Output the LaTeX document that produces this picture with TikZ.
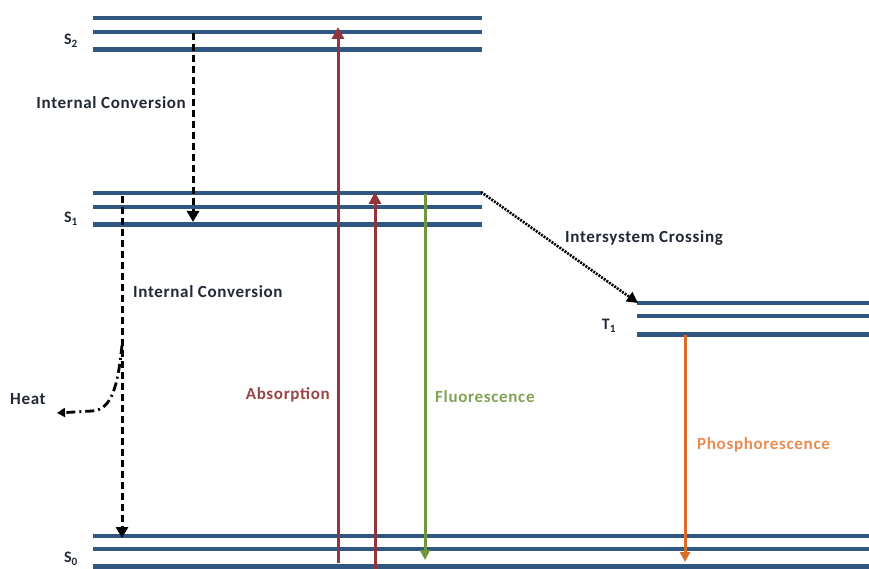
\documentclass[tikz,border=0pt]{standalone}
\usepackage{fontspec}
\setmainfont{Carlito}[LetterSpace=4]
\usepackage{xcolor}
\definecolor{levelcol}{RGB}{48,86,130}
\definecolor{abscol}{RGB}{146,54,60}
\definecolor{abstext}{RGB}{150,70,72}
\definecolor{fluocol}{RGB}{112,150,62}
\definecolor{fluotext}{RGB}{130,162,84}
\definecolor{phoscol}{RGB}{218,108,42}
\definecolor{phostext}{RGB}{232,140,82}
\definecolor{textcol}{RGB}{35,40,55}
\usepackage{tikz}
\usetikzlibrary{arrows.meta,positioning,calc}

\begin{document}
\begin{tikzpicture}[x=1pt, y=-1pt,
  lvl/.style={line width=3.8pt, color=levelcol},
  lvlb/.style={line width=5pt, color=levelcol},
  st/.style={font=\bfseries\fontsize{16}{18}\selectfont, color=textcol, inner sep=0pt},
  lbl/.style={font=\bfseries\fontsize{17}{19}\selectfont, inner sep=0pt},
  ic/.style={-{Triangle[length=11pt,width=12pt]}, line width=3pt, color=black,
             dash pattern=on 7pt off 4pt},
  heatarr/.style={-{Triangle[length=8pt,width=9pt]}, line width=2.8pt, color=black,
             dash pattern=on 9pt off 4pt on 2pt off 4pt},
  iscarr/.style={-{Triangle[length=11pt,width=11pt]}, line width=2.6pt, color=black,
             dash pattern=on 2pt off 1.2pt},
  absarr/.style={-{Triangle[length=12pt,width=12pt]}, line width=3pt, color=abscol},
  fluoarr/.style={-{Triangle[length=10pt,width=10pt]}, line width=3pt, color=fluocol},
  phosarr/.style={-{Triangle[length=10pt,width=10pt]}, line width=3pt, color=phoscol}
]
\useasboundingbox (0,0) rectangle (869,569);

%% energy levels
\draw[lvl]  (93,18)  -- (482,18);
\draw[lvl]  (93,32)  -- (482,32);
\draw[lvlb] (93,50)  -- (482,50);

\draw[lvl]  (93,193) -- (482,193);
\draw[lvl]  (93,207) -- (482,207);
\draw[lvlb] (93,225) -- (482,225);

\draw[lvl]  (637,303) -- (869,303);
\draw[lvl]  (637,316) -- (869,316);
\draw[lvlb] (637,334) -- (869,334);

\draw[lvl]  (93,536) -- (869,536);
\draw[lvl]  (93,549) -- (869,549);
\draw[lvlb] (93,566) -- (869,566);

%% state labels
\node[st] (s2) at (71,41)  {S\textsubscript{2}};
\node[st] (s1) at (71,219) {S\textsubscript{1}};
\node[st] (s0) at (71,559) {S\textsubscript{0}};
\node[st] (t1) at (609,326) {T\textsubscript{1}};

%% transitions
\coordinate (icA)  at (193,33);
\coordinate (icB)  at (193,222);
\coordinate (icC)  at (122,196);
\coordinate (icD)  at (122,538);
\coordinate (hA)   at (122,345);
\coordinate (hB)   at (57,413);
\coordinate (iscA) at (481,192);
\coordinate (iscB) at (638,303);
\coordinate (ab1A) at (338,563);
\coordinate (ab1B) at (338,27);
\coordinate (ab2A) at (375,569);
\coordinate (ab2B) at (375,192);
\coordinate (flA)  at (425,194);
\coordinate (flB)  at (425,560);
\coordinate (phA)  at (685,335);
\coordinate (phB)  at (685,562);

\draw[ic] (icA) -- (icB);
\draw[ic] (icC) -- (icD);
\draw[heatarr] (hA) .. controls (118,385) and (112,410) .. (92,411) -- (hB);
\draw[iscarr] (iscA) -- (iscB);
\draw[absarr] (ab1A) -- (ab1B);
\draw[absarr] (ab2A) -- (ab2B);
\draw[fluoarr] (flA) -- (flB);
\draw[phosarr] (phA) -- (phB);

%% process labels
\node[lbl, color=textcol, anchor=east] (ic1) at (186,103) {Internal Conversion};
\node[lbl, color=textcol, anchor=west] (ic2) at (133,292) {Internal Conversion};
\node[lbl, color=textcol, anchor=west] (heat) at (10,399) {Heat};
\node[lbl, color=textcol, anchor=west] (isc) at (565,238) {Intersystem Crossing};
\node[lbl, color=abstext,  anchor=east] (absl)  at (330,395) {Absorption};
\node[lbl, color=fluotext, anchor=west] (fluol) at (435,397) {Fluorescence};
\node[lbl, color=phostext, anchor=west] (phosl) at (697,445) {Phosphorescence};
\end{tikzpicture}
\end{document}
